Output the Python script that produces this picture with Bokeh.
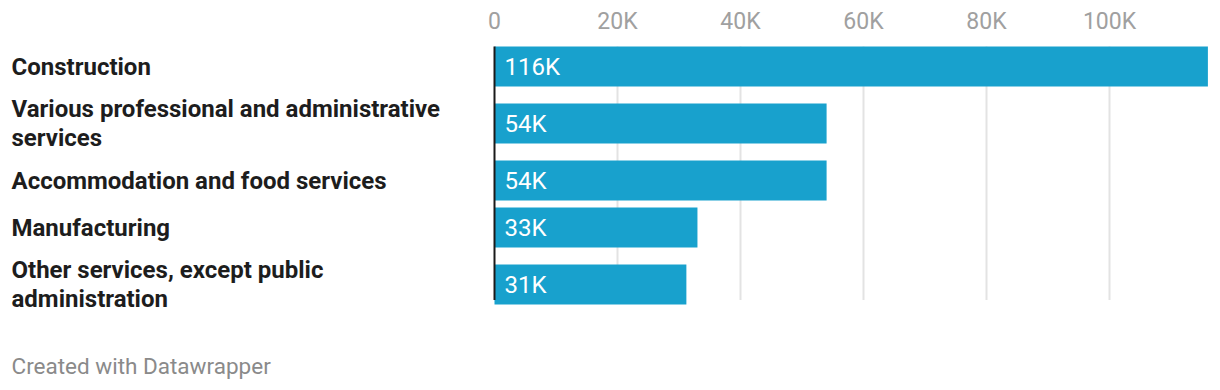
from bokeh.plotting import figure
from bokeh.models import Range1d, FixedTicker, ColumnDataSource
from bokeh.core.properties import value
from bokeh.embed import file_html
from bokeh.resources import INLINE

# ---- data ----
categories = [
    "Construction",
    "Various professional and administrative\nservices",
    "Accommodation and food services",
    "Manufacturing",
    "Other services, except public\nadministration",
]
values = [116000, 54000, 54000, 33000, 31200]
value_labels = ["116K", "54K", "54K", "33K", "31K"]
tick_values = [0, 20000, 40000, 60000, 80000, 100000]
tick_labels = ["0", "20K", "40K", "60K", "80K", "100K"]

# ---- layout constants ----
W, H = 1212, 380
TOP_BORDER = 40
ZERO_PX = 494          # frame pixel of x = 0
PX_PER_UNIT = 0.00615  # pixels per data unit
ROW_TOP = 42.5
H_SINGLE, H_DOUBLE = 47, 67
BAR_H = 40
BLUE = "#18a1cd"

x_start = -ZERO_PX / PX_PER_UNIT
x_end = (W - ZERO_PX) / PX_PER_UNIT

# row centres in page-pixel y units, derived from label line counts
centers = []
y = ROW_TOP
for c in categories:
    h = H_DOUBLE if "\n" in c else H_SINGLE
    centers.append(y + h / 2)
    y += h
chart_bottom = y

p = figure(width=W, height=H, output_backend="svg", toolbar_location=None,
           x_range=Range1d(x_start, x_end),
           y_range=Range1d(H, TOP_BORDER),
           x_axis_location="above",
           min_border_left=0, min_border_right=0, min_border_bottom=0,
           min_border_top=TOP_BORDER)
p.outline_line_color = None
p.background_fill_color = "white"
p.border_fill_color = "white"
p.yaxis.visible = False
p.xgrid.visible = False
p.ygrid.visible = False

ax = p.xaxis[0]
ax.ticker = FixedTicker(ticks=tick_values)
ax.major_label_overrides = {v: l for v, l in zip(tick_values, tick_labels)}
ax.axis_line_color = None
ax.major_tick_line_color = None
ax.minor_tick_line_color = None
ax.major_label_text_font = "Roboto"
ax.major_label_text_font_size = "23px"
ax.major_label_text_color = "#a0a0a0"
ax.major_label_standoff = 0

bar_top = centers[0] - BAR_H / 2
grid_bottom = chart_bottom - 18

# grid lines
p.segment(x0=tick_values[1:], x1=tick_values[1:], y0=bar_top, y1=grid_bottom,
          line_color="#e3e3e3", line_width=2)

src = ColumnDataSource(dict(y=centers, v=values, lab=value_labels, cat=categories))
p.hbar(y="y", left=0, right="v", height=BAR_H, source=src,
       fill_color=BLUE, line_color=None)

# zero line
p.segment(x0=[0], x1=[0], y0=bar_top, y1=grid_bottom, line_color="#1a1a1a", line_width=2)

p.text(x=0, y="y", text="lab", source=src, x_offset=10,
       text_font=value("Roboto"), text_font_size="24px", text_color="white",
       text_baseline="middle", text_align="left")

label_x = x_start + 11 / PX_PER_UNIT
p.text(x=label_x, y="y", text="cat", source=src,
       text_font=value("Roboto"), text_font_size="24px", text_font_style="bold",
       text_color="#1d1d1d", text_baseline="middle", text_align="left",
       text_line_height=1.03)

p.text(x=[label_x], y=[365.5], text=["Created with Datawrapper"],
       text_font=value("Roboto"), text_font_size="22.5px", text_color="#8a8a8a",
       text_baseline="middle", text_align="left")

open("out.html", "w").write(file_html(p, INLINE))
